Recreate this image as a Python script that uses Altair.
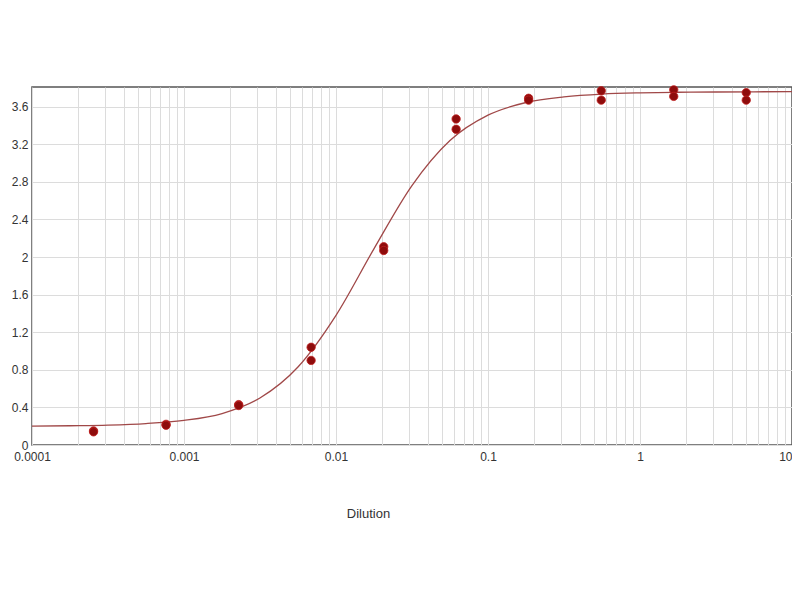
import altair as alt
import pandas as pd

# Measured replicate data (dilution, OD)
dilution = [0.000254, 0.000254, 0.000762, 0.000762, 0.00229, 0.00229,
            0.00686, 0.00686, 0.0206, 0.0206, 0.0617, 0.0617,
            0.185, 0.185, 0.556, 0.556, 1.667, 1.667, 5.0, 5.0]
od = [0.15, 0.14, 0.22, 0.21, 0.43, 0.42,
      1.04, 0.90, 2.11, 2.07, 3.47, 3.36,
      3.69, 3.67, 3.77, 3.67, 3.78, 3.71, 3.75, 3.67]

# Fitted curve
curve_x = [0.0001, 0.000178, 0.000316, 0.000562, 0.001, 0.00178, 0.00316,
           0.00562, 0.01, 0.0178, 0.0316, 0.0562, 0.1, 0.178, 0.316,
           0.562, 1.0, 1.78, 3.16, 5.62, 10.0]
curve_y = [0.20, 0.205, 0.212, 0.228, 0.262, 0.335, 0.50, 0.83, 1.38,
           2.09, 2.76, 3.24, 3.51, 3.645, 3.705, 3.735, 3.748, 3.754,
           3.757, 3.759, 3.76]

x_grid = [m * 10.0 ** k for k in range(-4, 1) for m in range(1, 10)] + [10.0]
y_ticks = [0, 0.4, 0.8, 1.2, 1.6, 2.0, 2.4, 2.8, 3.2, 3.6]

pts = pd.DataFrame({"Dilution": dilution, "OD": od})
crv = pd.DataFrame({"Dilution": curve_x, "OD": curve_y})

FONT = "Liberation Sans"

xscale = alt.Scale(type="log", domain=[0.0001, 10], nice=False)
yscale = alt.Scale(domain=[0, 3.81], nice=False, zero=False)

xaxis = alt.Axis(
    values=x_grid, tickCount=200,
    labelExpr="abs(log(datum.value)/LN10 - round(log(datum.value)/LN10)) < 0.001 ? format(datum.value, '~g') : ''",
    labelAlign=alt.ExprRef(expr="datum.value >= 9.99 ? 'right' : 'center'"),
    grid=True, gridColor="#dcdcdc", gridWidth=1,
    ticks=False, domain=False,
    labelFont=FONT, labelFontSize=12, labelColor="#333333", labelPadding=6,
    labelFlush=False, labelOverlap=False,
    title="Dilution", titleFont=FONT, titleFontSize=13, titleFontWeight="normal",
    titleColor="#333333", titleX=336, titleY=62, titleAlign="center",
)
yaxis = alt.Axis(
    values=y_ticks, tickCount=200, format="~g",
    grid=True, gridColor="#dcdcdc", gridWidth=1,
    ticks=False, domain=False,
    labelFont=FONT, labelFontSize=12, labelColor="#333333", labelPadding=4,
    labelFlush=False, labelOverlap=False,
    title=None,
)

line = alt.Chart(crv).mark_line(color="#a04848", strokeWidth=1.3, interpolate="monotone").encode(
    x=alt.X("Dilution:Q", scale=xscale, axis=xaxis),
    y=alt.Y("OD:Q", scale=yscale, axis=yaxis),
)
dots = alt.Chart(pts).mark_circle(color="#8e0c0c", opacity=1, size=70, stroke="#c02020", strokeWidth=0.8).encode(
    x=alt.X("Dilution:Q", scale=xscale),
    y=alt.Y("OD:Q", scale=yscale),
)

chart = alt.layer(line, dots).properties(
    width=760, height=358,
    autosize=alt.AutoSizeParams(type="none"),
    padding={"left": 24, "top": 79, "right": 0, "bottom": 100},
    background="white",
).configure_view(stroke="#555555", strokeWidth=1.5)

chart.save("out.html", embed_options={"renderer": "svg", "actions": False})
